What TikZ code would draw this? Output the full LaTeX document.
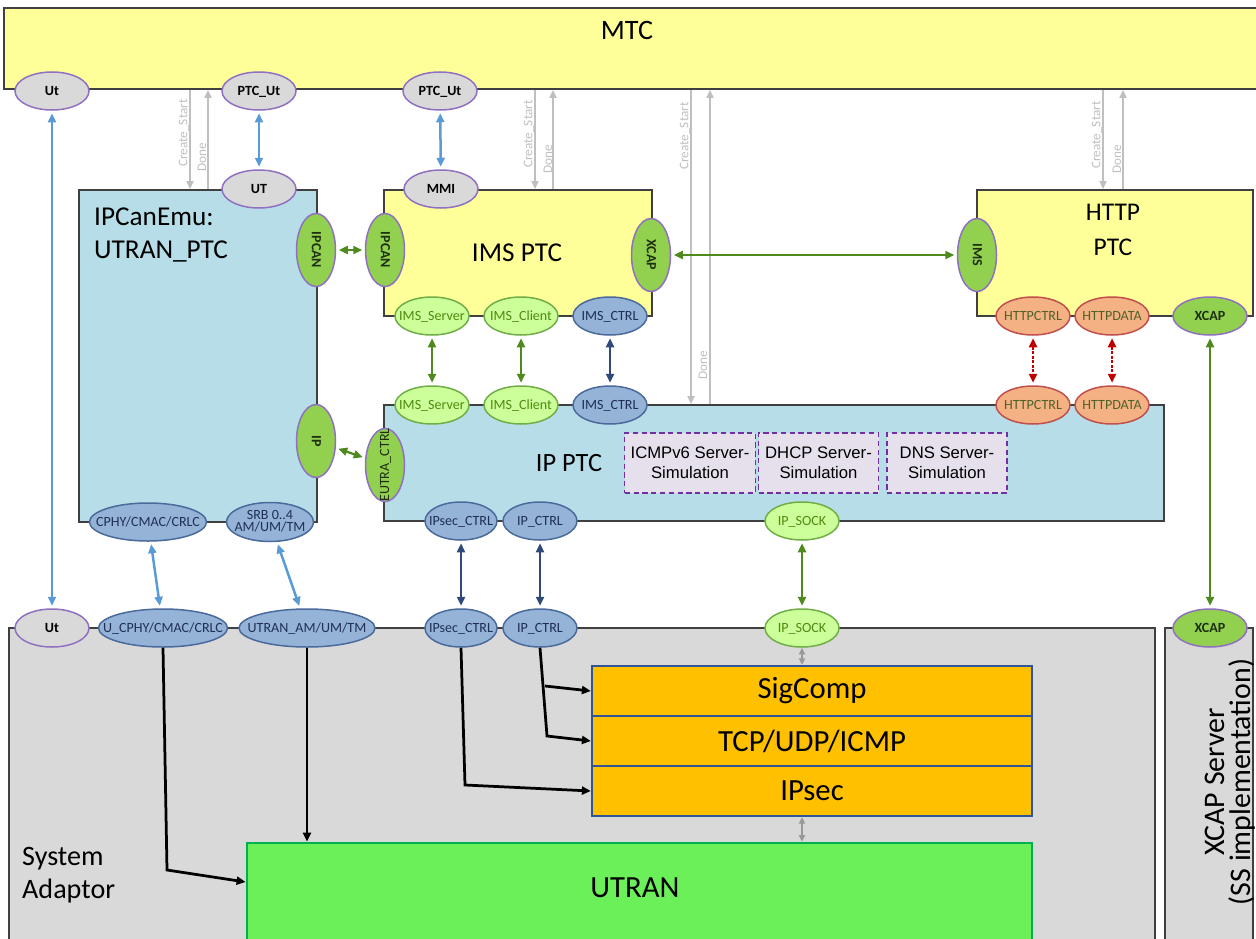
\documentclass[tikz,border=0pt]{standalone}
\usepackage{fontspec}
\setmainfont{Carlito}
\newfontfamily\simfont{Liberation Sans}
\usetikzlibrary{shapes.geometric,arrows.meta}
\definecolor{mtcyellow}{HTML}{FFFF99}
\definecolor{ptcblue}{HTML}{B7DEE8}
\definecolor{sagrey}{HTML}{D9D9D9}
\definecolor{edgegrey}{HTML}{404040}
\definecolor{portpurple}{HTML}{9070C0}
\definecolor{portgreen}{HTML}{92D050}
\definecolor{greentext}{HTML}{1E3010}
\definecolor{limefill}{HTML}{CCFF99}
\definecolor{limeedge}{HTML}{70AD47}
\definecolor{limetext}{HTML}{4F8A10}
\definecolor{portblue}{HTML}{95B3D7}
\definecolor{portnavy}{HTML}{4A6A9C}
\definecolor{navytext}{HTML}{1F2F55}
\definecolor{salmonfill}{HTML}{F4B183}
\definecolor{salmonedge}{HTML}{C0504D}
\definecolor{salmontext}{HTML}{4F6228}
\definecolor{stackorange}{HTML}{FFC000}
\definecolor{stackedge}{HTML}{2F5597}
\definecolor{utranfill}{HTML}{6CF05A}
\definecolor{utranedge}{HTML}{00B050}
\definecolor{simfill}{HTML}{E6E0EC}
\definecolor{simedge}{HTML}{7030A0}
\definecolor{arrblue}{HTML}{5B9BD5}
\definecolor{arrgreen}{HTML}{4E8A1E}
\definecolor{arrnavy}{HTML}{2F4A78}
\definecolor{arrred}{HTML}{C00000}
\definecolor{arrgrey}{HTML}{BFBFBF}
\newcommand\plab[1]{\makebox[0pt]{\smash{\raisebox{-0.6ex}{#1}}}}
\begin{document}
\begin{tikzpicture}[x=0.2mm,y=-0.2mm,
	box/.style={draw=edgegrey,line width=0.35mm,inner sep=0pt},
	port/.style={ellipse,line width=0.3mm,inner sep=0pt,minimum width=14.8mm,minimum height=7.6mm,font=\fontsize{8}{9}\selectfont},
	greyport/.style={port,fill=sagrey,draw=portpurple,font=\fontsize{8}{9}\selectfont\bfseries},
	greenport/.style={port,fill=portgreen,draw=portpurple,text=greentext,font=\fontsize{8}{9}\selectfont\bfseries},
	vport/.style={greenport,rotate=-90,minimum width=14.6mm,minimum height=7.8mm},
	limeport/.style={port,fill=limefill,draw=limeedge,text=limetext},
	blueport/.style={port,fill=portblue,draw=portnavy,text=navytext},
	salmonport/.style={port,fill=salmonfill,draw=salmonedge,text=salmontext},
	simbox/.style={draw=simedge,densely dashed,line width=0.25mm,fill=simfill,minimum width=24mm,minimum height=12mm,align=center,font=\simfont\fontsize{9.5}{11.5}\selectfont},
	stackbox/.style={draw=stackedge,line width=0.45mm,fill=stackorange,minimum width=88mm,minimum height=10mm,font=\fontsize{17.5}{20}\selectfont},
	ctrlarr/.style={draw=arrgrey,line width=0.35mm,>={Triangle[length=1.6mm,width=1.4mm]},->},
	ctrllbl/.style={rotate=90,text=arrgrey,font=\fontsize{7.5}{8}\selectfont,inner sep=0pt},
	bluearr/.style={draw=arrblue,line width=0.5mm,>={Triangle[length=1.8mm,width=1.6mm]},<->,shorten <=0.5mm,shorten >=0.5mm},
	greenarr/.style={draw=arrgreen,line width=0.45mm,>={Triangle[length=1.8mm,width=1.6mm]},<->,shorten <=0.5mm,shorten >=0.5mm},
	navyarr/.style={draw=arrnavy,line width=0.45mm,>={Triangle[length=1.8mm,width=1.6mm]},<->,shorten <=0.5mm,shorten >=0.5mm},
	redarr/.style={draw=arrred,line width=0.45mm,dash pattern=on 0.6mm off 0.3mm,>={Triangle[length=1.8mm,width=1.6mm]},<->,shorten <=0.5mm,shorten >=0.5mm},
	blackarr/.style={draw=black,line width=0.55mm,>={Triangle[length=1.8mm,width=1.6mm]},->},
	sockarr/.style={draw=arrgrey!80!black,line width=0.35mm,>={Triangle[length=1.3mm,width=1.2mm]},<->}]
	\useasboundingbox (0,0) rectangle (1256,938);
	\clip (0,0) rectangle (1256,938);
	\node[box,fill=mtcyellow,minimum width=251.6mm,minimum height=16.2mm] (mtc) at (633,48.5) {};
	\node[box,fill=ptcblue,minimum width=47.6mm,minimum height=66.4mm] (ipcanemu) at (198,356) {};
	\node[box,fill=mtcyellow,minimum width=53.6mm,minimum height=25.2mm] (imsptc) at (518,253) {};
	\node[box,fill=mtcyellow,minimum width=55.2mm,minimum height=25.2mm] (httpptc) at (1115,253) {};
	\node[box,fill=ptcblue,minimum width=156mm,minimum height=23.2mm] (ipptc) at (774,463) {};
	\node[box,fill=sagrey,minimum width=229.2mm,minimum height=64.4mm] (sysad) at (582,789) {};
	\node[box,fill=sagrey,minimum width=17.6mm,minimum height=64.4mm] (xcapsrv) at (1209,789) {};
	\node[stackbox] (sigbox) at (812,691) {SigComp};
	\node[stackbox] (tcpbox) at (812,741) {TCP/UDP/ICMP};
	\node[stackbox] (ipsecbox) at (812,791) {IPsec};
	\node[draw=utranedge,line width=0.55mm,fill=utranfill,minimum width=157mm,minimum height=21.4mm] (utranbox) at (639.5,896.5) {};
	\node[simbox] (icmpsim) at (690,463) {ICMPv6 Server-\\Simulation};
	\node[simbox] (dhcpsim) at (818.5,463) {DHCP Server-\\Simulation};
	\node[simbox] (dnssim) at (947,463) {DNS Server-\\Simulation};
	\node[font=\fontsize{16}{19}\selectfont] (mtclbl) at (627,30) {MTC};
	\node[anchor=west,align=left,font=\fontsize{15.5}{18.5}\selectfont] (emulbl) at (88,235) {IPCanEmu:\\UTRAN\_PTC};
	\node[font=\fontsize{15.5}{18}\selectfont] (imslbl) at (517,253) {IMS PTC};
	\node[align=center,font=\fontsize{14.5}{20}\selectfont] (httplbl) at (1113,230) {HTTP\\PTC};
	\node[font=\fontsize{15}{18}\selectfont] (iplbl) at (569,463) {IP PTC};
	\node[font=\fontsize{17.5}{20}\selectfont] (utranlbl) at (635,888) {UTRAN};
	\node[anchor=west,align=left,font=\fontsize{16}{19}\selectfont] (salbl) at (16,875) {System\\Adaptor};
	\node[rotate=90,align=center,font=\fontsize{17}{14.5}\selectfont] (srvlbl) at (1230,782) {XCAP Server\\(SS implementation)};
	\node[greyport] (mtcut) at (52,91) {\plab{Ut}};
	\node[greyport] (mtcptcut) at (259,91) {\plab{PTC\_Ut}};
	\node[greyport] (mtcimsut) at (440,91) {\plab{PTC\_Ut}};
	\node[greyport] (emuut) at (259,189) {\plab{UT}};
	\node[greyport] (imsmmi) at (441,189) {\plab{MMI}};
	\node[vport] (emuipcan) at (316,250) {\plab{IPCAN}};
	\node[vport] (imsipcan) at (385,250) {\plab{IPCAN}};
	\node[vport] (imsxcap) at (651,255) {\plab{XCAP}};
	\node[vport] (httpims) at (977,255) {\plab{IMS}};
	\node[vport] (emuip) at (316,441) {\plab{IP}};
	\node[vport,rotate=180,font=\fontsize{8}{9}\selectfont] (ipeutra) at (385,465) {\plab{EUTRA\_CTRL}};
	\node[limeport] (imsserver) at (432,316) {\plab{IMS\_Server}};
	\node[limeport] (imsclient) at (521,316) {\plab{IMS\_Client}};
	\node[blueport] (imsctrl) at (610,316) {\plab{IMS\_CTRL}};
	\node[limeport] (ipserver) at (432,405) {\plab{IMS\_Server}};
	\node[limeport] (ipclient) at (521,405) {\plab{IMS\_Client}};
	\node[blueport] (ipimsctrl) at (610,405) {\plab{IMS\_CTRL}};
	\node[salmonport] (httpctrl) at (1033,316) {\plab{HTTPCTRL}};
	\node[salmonport] (httpdata) at (1112,316) {\plab{HTTPDATA}};
	\node[greenport] (httpxcap) at (1210,316) {\plab{XCAP}};
	\node[salmonport] (iphttpctrl) at (1033,405) {\plab{HTTPCTRL}};
	\node[salmonport] (iphttpdata) at (1112,405) {\plab{HTTPDATA}};
	\node[blueport,minimum width=23.4mm] (emucphy) at (148,522) {\plab{CPHY/CMAC/CRLC}};
	\node[blueport,minimum width=17.4mm,minimum height=7.8mm] (emusrb) at (270,522) {\plab{\begin{tabular}{@{}c@{}}SRB 0..4\\[-2pt]AM/UM/TM\end{tabular}}};
	\node[blueport,minimum width=14.4mm] (ipsecctrl) at (461,521) {\plab{IPsec\_CTRL}};
	\node[blueport] (ipctrl) at (540,521) {\plab{IP\_CTRL}};
	\node[limeport] (ipsock) at (802,521) {\plab{IP\_SOCK}};
	\node[greyport] (saut) at (52,628) {\plab{Ut}};
	\node[blueport,minimum width=25.8mm] (sacphy) at (163,628) {\plab{U\_CPHY/CMAC/CRLC}};
	\node[blueport,minimum width=27.2mm] (saam) at (307,628) {\plab{UTRAN\_AM/UM/TM}};
	\node[blueport,minimum width=14.4mm] (saipsec) at (461,628) {\plab{IPsec\_CTRL}};
	\node[blueport] (saipctrl) at (540,628) {\plab{IP\_CTRL}};
	\node[limeport] (saipsock) at (802,628) {\plab{IP\_SOCK}};
	\node[greenport] (srvxcap) at (1210,628) {\plab{XCAP}};
	\coordinate (cs1) at (190,0);
	\coordinate (dn1) at (208,0);
	\coordinate (cs2) at (535,0);
	\coordinate (dn2) at (553,0);
	\coordinate (cs3) at (691,0);
	\coordinate (dn3) at (710,0);
	\coordinate (cs4) at (1103,0);
	\coordinate (dn4) at (1123,0);
	\draw[ctrlarr] (mtc.south -| cs1) -- (ipcanemu.north -| cs1);
	\draw[ctrlarr] (ipcanemu.north -| dn1) -- (mtc.south -| dn1);
	\draw[ctrlarr] (mtc.south -| cs2) -- (imsptc.north -| cs2);
	\draw[ctrlarr] (imsptc.north -| dn2) -- (mtc.south -| dn2);
	\draw[ctrlarr] (mtc.south -| cs3) -- (ipptc.north -| cs3);
	\draw[ctrlarr] (ipptc.north -| dn3) -- (mtc.south -| dn3);
	\draw[ctrlarr] (mtc.south -| cs4) -- (httpptc.north -| cs4);
	\draw[ctrlarr] (httpptc.north -| dn4) -- (mtc.south -| dn4);
	\node[ctrllbl] (cslbl1) at (184,133) {Create\_Start};
	\node[ctrllbl] (dnlbl1) at (202,157) {Done};
	\node[ctrllbl] (cslbl2) at (529,134) {Create\_Start};
	\node[ctrllbl] (dnlbl2) at (548,159) {Done};
	\node[ctrllbl] (cslbl3) at (685,136) {Create\_Start};
	\node[ctrllbl] (dnlbl3) at (703,365) {Done};
	\node[ctrllbl] (cslbl4) at (1097,135) {Create\_Start};
	\node[ctrllbl] (dnlbl4) at (1117,159) {Done};
	\draw[bluearr] (mtcut) -- (saut);
	\draw[bluearr] (mtcptcut) -- (emuut);
	\draw[bluearr] (mtcimsut) -- (imsmmi);
	\draw[greenarr] (emuipcan) -- (imsipcan);
	\draw[greenarr] (imsxcap) -- (httpims);
	\draw[greenarr] (emuip) -- (ipeutra);
	\draw[greenarr] (imsserver) -- (ipserver);
	\draw[greenarr] (imsclient) -- (ipclient);
	\draw[navyarr] (imsctrl) -- (ipimsctrl);
	\draw[redarr] (httpctrl) -- (iphttpctrl);
	\draw[redarr] (httpdata) -- (iphttpdata);
	\draw[greenarr] (httpxcap) -- (srvxcap);
	\draw[bluearr] (emucphy) -- (sacphy);
	\draw[bluearr] (emusrb) -- (saam);
	\draw[navyarr] (ipsecctrl) -- (saipsec);
	\draw[navyarr] (ipctrl) -- (saipctrl);
	\draw[greenarr] (ipsock) -- (saipsock);
	\draw[sockarr] (sigbox.north -| saipsock) -- (saipsock);
	\draw[sockarr] (ipsecbox.south -| saipsock) -- (utranbox.north -| saipsock);
	\coordinate (cphybend) at (167,870);
	\coordinate (cphyend) at (0,882);
	\coordinate (ipsecbend) at (465,785);
	\coordinate (ipctrlbend) at (547,736);
	\coordinate (ipctrlfork) at (545,686);
	\draw[blackarr] (sacphy.south) -- (cphybend) -- (utranbox.west |- cphyend);
	\draw[blackarr] (saam.south) -- (saam.south |- utranbox.north);
	\draw[blackarr] (saipsec.south) -- (ipsecbend) -- (ipsecbox.west);
	\draw[blackarr] (saipctrl.south) -- (ipctrlbend) -- (tcpbox.west);
	\draw[blackarr] (ipctrlfork) -- (sigbox.west);
\end{tikzpicture}
\end{document}
